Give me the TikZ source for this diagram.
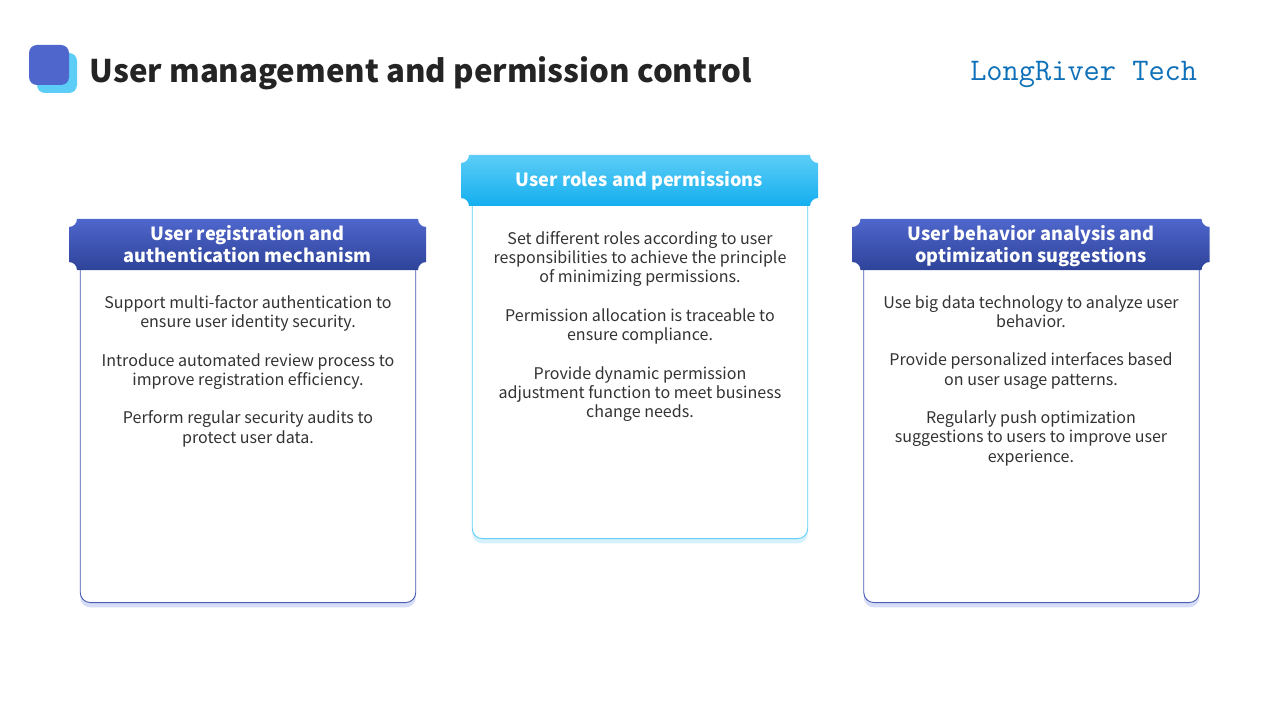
\documentclass[tikz,border=0pt]{standalone}
\usepackage{xcolor}
\usepackage{fontspec}
\setmainfont[Ligatures=NoCommon]{Noto Sans CJK SC}
\definecolor{navytop}{HTML}{4F66CC}
\definecolor{navybot}{HTML}{2E4399}
\definecolor{skytop}{HTML}{5CCDF6}
\definecolor{skybot}{HTML}{14AEEF}
\definecolor{navyedge}{HTML}{4A5FB5}
\definecolor{skyedge}{HTML}{62CFF5}
\definecolor{navyglow}{HTML}{D6DCF6}
\definecolor{skyglow}{HTML}{D5F1FC}
\definecolor{inktext}{HTML}{333333}
\definecolor{brandblue}{HTML}{0E70B8}
\tikzset{
  card/.style={draw=#1,line width=0.7pt,rounded corners=7.5pt,fill=white,minimum width=251.6pt,minimum height=260.3pt,anchor=north,inner sep=0pt},
  glow/.style={fill=#1,rounded corners=7.5pt,minimum width=251.6pt,minimum height=260.3pt,anchor=north,inner sep=0pt},
  bodytext/.style={text=inktext,align=center,anchor=north,inner sep=0pt,font=\fontsize{12.05}{14.45}\selectfont},
  headtext/.style={text=white,align=center,inner sep=0pt,font=\fontsize{13.6}{16.5}\selectfont\bfseries},
  pics/headband/.style n args={2}{code={
    \shade[top color=#1,bottom color=#2]
      (-170.5,0) -- (170.5,0)
      .. controls (170.5,4.4) and (174.1,8) .. (178.5,8)
      -- (178.5,43)
      .. controls (174.1,43) and (170.5,46.6) .. (170.5,51)
      -- (-170.5,51)
      .. controls (-170.5,46.6) and (-174.1,43) .. (-178.5,43)
      -- (-178.5,8)
      .. controls (-174.1,8) and (-170.5,4.4) .. (-170.5,0) -- cycle;
  }},
}
\begin{document}
\begin{tikzpicture}[x=0.75pt,y=-0.75pt]
  \useasboundingbox (0,0) rectangle (1280,720);

  % logo and titles
  \fill[skytop,rounded corners=6pt] (37,53) rectangle (77,93);
  \fill[navytop,rounded corners=6pt] (29,45) rectangle (69,85);
  \node[anchor=west,inner sep=0pt,text=inktext!70!black,font=\fontsize{23.4}{28}\selectfont\bfseries] (title) at (89.5,73.5) {User management and permission control};
  \node[anchor=west,inner sep=0pt,text=brandblue,font=\fontsize{23.6}{26}\selectfont\ttfamily] (brand) at (970,74) {LongRiver Tech};

  % left column
  \node[glow=navyglow] (glowA) at (248,260) {};
  \node[card=navyedge] (cardA) at (248,255) {};
  \path (247.5,219) pic {headband={navytop}{navybot}};
  \node[headtext] (headA) at (247.5,244) {User registration and\\authentication mechanism};
  \node[bodytext] (textA) at (248,295) {Support multi-factor authentication to\\ensure user identity security.\\[14.45pt]Introduce automated review process to\\improve registration efficiency.\\[14.45pt]Perform regular security audits to\\protect user data.};

  % middle column
  \node[glow=skyglow] (glowB) at (640,196) {};
  \node[card=skyedge] (cardB) at (640,191) {};
  \path (639.5,155) pic {headband={skytop}{skybot}};
  \node[headtext] (headB) at (639.5,181) {User roles and permissions};
  \node[bodytext] (textB) at (640,231) {Set different roles according to user\\responsibilities to achieve the principle\\of minimizing permissions.\\[14.45pt]Permission allocation is traceable to\\ensure compliance.\\[14.45pt]Provide dynamic permission\\adjustment function to meet business\\change needs.};

  % right column
  \node[glow=navyglow] (glowC) at (1031.5,260) {};
  \node[card=navyedge] (cardC) at (1031.5,255) {};
  \path (1031,219) pic {headband={navytop}{navybot}};
  \node[headtext] (headC) at (1031,246) {User behavior analysis and\\optimization suggestions};
  \node[bodytext] (textC) at (1031,295) {Use big data technology to analyze user\\behavior.\\[14.45pt]Provide personalized interfaces based\\on user usage patterns.\\[14.45pt]Regularly push optimization\\suggestions to users to improve user\\experience.};
\end{tikzpicture}
\end{document}
